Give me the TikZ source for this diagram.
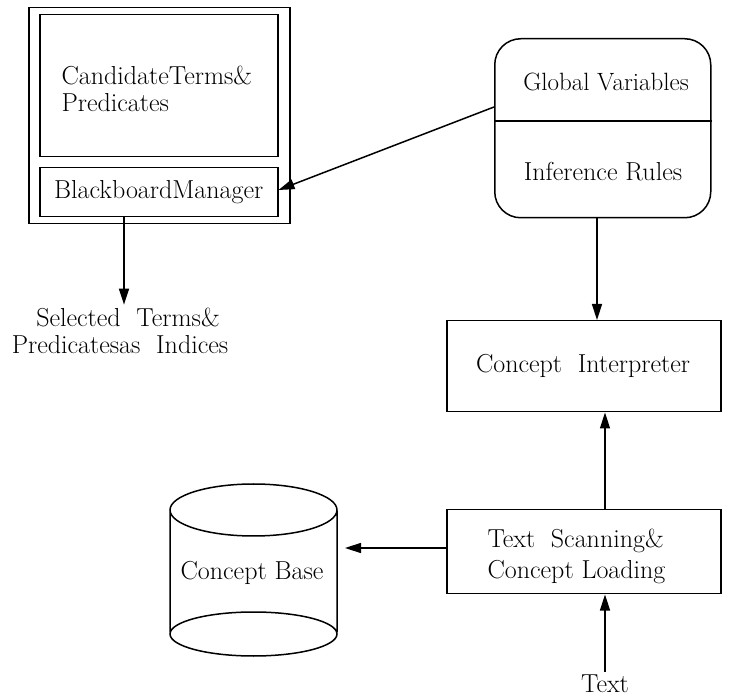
\documentclass[tikz,border=0pt]{standalone}
\usetikzlibrary{arrows.meta}
\begin{document}
\begin{tikzpicture}[x=1pt,y=-1pt,
  every node/.style={font=\fontsize{26}{27}\selectfont},
  small/.style={font=\fontsize{25}{27}\selectfont},
  box/.style={draw,line width=1.5pt,inner sep=0pt},
  flow/.style={line width=1.5pt,-{Triangle[length=16pt,width=10pt]}},
  lbl/.style={align=left,anchor=west}]
\useasboundingbox (0,0) rectangle (745,700);

% blackboard: outer frame, candidate area, manager
\node[box,anchor=north west,minimum width=261pt,minimum height=216pt] (board) at (28,7) {};
\node[box,anchor=north west,minimum width=238pt,minimum height=142pt] (cand) at (39,14) {};
\node[lbl] (candtxt) at (58,89) {CandidateTerms\&\\Predicates};
\node[box,anchor=north west,minimum width=238pt,minimum height=49pt] (mgr) at (39,167) {BlackboardManager};

% selected output label
\node[align=center] (sel) at (120,331) {\hspace*{16pt}Selected\ \ Terms\&\\Predicatesas\ \ Indices};

% global variables / inference rules
\node[box,rounded corners=26pt,anchor=north west,minimum width=216pt,minimum height=179pt] (glob) at (494,38) {};
\draw[line width=1.5pt] (glob.west |- 0,121) -- (glob.east |- 0,121);
\node[small] (gv) at (606,82) {Global Variables};
\node (ir) at (603,172) {Inference Rules};

% concept interpreter
\node[box,anchor=north west,minimum width=274pt,minimum height=91pt] (interp) at (446,320) {};
\node (interptxt) at (583,366) {Concept\ \ Interpreter};

% text scanning and loading
\node[box,anchor=north west,minimum width=274pt,minimum height=84pt] (scan) at (446,509) {};
\node[lbl,font=\fontsize{26}{31}\selectfont] (scantxt) at (484,556) {Text\ \ Scanning\&\\Concept Loading};

\node (txt) at (605,684) {Text};

% concept base cylinder
\coordinate (cbE) at (345,548);
\draw[line width=1.5pt] (170,511) -- (170,632) (337,511) -- (337,632)
  (253.5,510) ellipse [x radius=83.5, y radius=26]
  (253.5,634) ellipse [x radius=83.5, y radius=22];
\node (cb) at (252,573) {Concept Base};

% connectors
\draw[flow] (glob.west |- 0,107) -- (mgr.east |- 0,190);
\draw[flow] (mgr.south -| 124,0) -- (sel.north -| 124,0);
\draw[flow] (glob.south -| 597,0) -- (interp.north -| 597,0);
\draw[flow] (scan.north -| 605,0) -- (interp.south -| 605,0);
\draw[flow] (txt.north -| 605,0) -- (scan.south -| 605,0);
\draw[flow] (scan.west |- cbE) -- (cbE);
\end{tikzpicture}
\end{document}
